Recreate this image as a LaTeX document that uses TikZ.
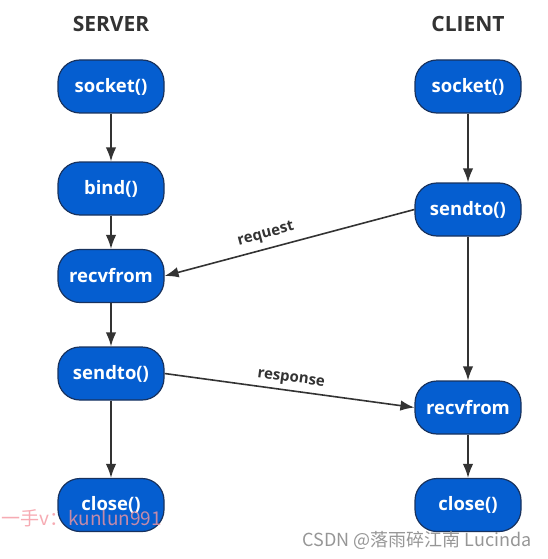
\documentclass[tikz,border=0pt]{standalone}
\usepackage{fontspec}
\setmainfont{Open Sans}
\newfontfamily\cjkfont{Noto Sans CJK SC}
\usetikzlibrary{arrows.meta}

\definecolor{callblue}{RGB}{5,94,208}
\definecolor{callborder}{RGB}{24,50,94}
\definecolor{linegray}{RGB}{51,51,51}
\definecolor{markpink}{RGB}{244,150,160}
\definecolor{markgray}{RGB}{150,150,150}

\tikzset{
	call/.style={draw=callborder, line width=1.2pt, fill=callblue, rounded corners=22pt,
		minimum width=106pt, minimum height=53pt, inner sep=0pt, text=white,
		font=\bfseries\fontsize{18.5}{18.5}\selectfont},
	flow/.style={draw=linegray, line width=1.6pt, -{Latex[length=14pt,width=10.5pt]}},
	side/.style={text=linegray, font=\bfseries\fontsize{21}{21}\selectfont},
	msg/.style={text=linegray, font=\bfseries\fontsize{15}{15}\selectfont, sloped}
}

\begin{document}
\begin{tikzpicture}[x=1pt, y=-1pt]
		\useasboundingbox (0, 0) rectangle (547, 559);

		% titles
		\node [side] (server) at (111, 24) {SERVER};
		\node [side] (client) at (468, 24) {CLIENT};

		% server side
		\node [call] (ssock) at (111, 86.5) {socket()};
		\node [call] (sbind) at (111, 188.5) {bind()};
		\node [call] (srecv) at (111, 276) {recvfrom};
		\node [call] (ssend) at (111, 373.5) {sendto()};
		\node [call] (sclose) at (111, 505) {close()};

		% client side
		\node [call] (csock) at (468, 86.5) {socket()};
		\node [call] (csend) at (468, 209.5) {sendto()};
		\node [call] (crecv) at (468, 407.5) {recvfrom};
		\node [call] (cclose) at (468, 505) {close()};

		\draw [flow] (ssock) -- (sbind);
		\draw [flow] (sbind) -- (srecv);
		\draw [flow] (srecv) -- (ssend);
		\draw [flow] (ssend) -- (sclose);

		\draw [flow] (csock) -- (csend);
		\draw [flow] (csend) -- (crecv);
		\draw [flow] (crecv) -- (cclose);

		% messages
		\draw [flow] (csend.west) -- node [msg, pos=0.58, above=3pt] {request} (srecv.east);
		\draw [flow] (ssend.east) -- node [msg, pos=0.5, above=1pt] {response} (crecv.west);

		% marks
		\node [text=markpink, opacity=0.8, anchor=west, font=\cjkfont\fontsize{19}{19}\selectfont]
			(markleft) at (-2, 518) {一手v：kunlun991};
		\node [text=markgray, anchor=east, font=\cjkfont\fontsize{18}{18}\selectfont]
			(markright) at (535, 540) {CSDN @落雨碎江南 Lucinda};
	\end{tikzpicture}
\end{document}
